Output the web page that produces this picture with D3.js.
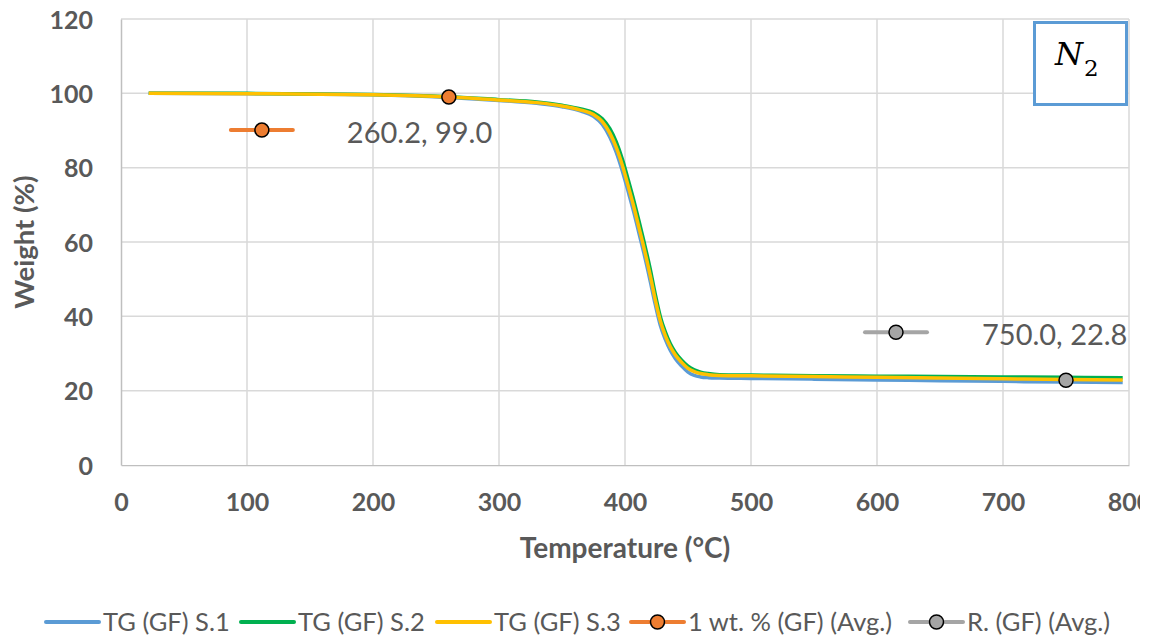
<!DOCTYPE html>
<html>
<head>
<meta charset="utf-8">
<script src="https://cdn.jsdelivr.net/npm/d3@7"></script>
<style>
  body { margin: 0; background: #fff; }
  text { font-family: Lato, "Open Sans", sans-serif; fill: #595959; }
</style>
</head>
<body>
<svg id="chart" width="1153" height="639"></svg>
<script>
// TG curves (temperature in °C, weight in %)
const temperature = [22, 100, 200, 260, 300, 330, 350, 365, 375, 382, 388, 393, 398, 403, 407, 411, 415, 420, 424, 428, 432, 436, 440, 445, 450, 455, 460, 466, 475, 500, 550, 600, 650, 700, 750, 795];
const tgS1 = [100, 99.9, 99.6, 98.9, 98.1, 97.3, 96.4, 95.2, 93.8, 91.6, 88.2, 84.2, 79.0, 73.0, 68.0, 62.5, 57.0, 49.5, 43.2, 37.6, 33.8, 30.8, 28.6, 26.6, 25.0, 24.1, 23.7, 23.5, 23.4, 23.3, 23.1, 22.9, 22.7, 22.5, 22.3, 22.2];
const tgS2 = [100, 100, 99.7, 99.1, 98.3, 97.7, 96.8, 95.8, 94.8, 93.2, 90.5, 87.0, 82.2, 76.2, 71.2, 65.8, 60.2, 52.8, 46.0, 40.0, 35.8, 32.6, 30.3, 28.2, 26.6, 25.6, 25.0, 24.6, 24.3, 24.2, 24.0, 23.9, 23.8, 23.7, 23.6, 23.5];
const tgS3 = [100, 99.9, 99.6, 99.0, 98.2, 97.5, 96.6, 95.5, 94.3, 92.4, 89.3, 85.5, 80.5, 74.5, 69.5, 64.0, 58.5, 51.0, 44.5, 38.8, 34.8, 31.8, 29.6, 27.6, 26.0, 25.1, 24.6, 24.3, 24.1, 24.0, 23.8, 23.6, 23.4, 23.2, 23.0, 22.9];

// averaged marker points
const onsetTemp = [260.2];
const onsetWeight = [99.0];
const residueTemp = [750.0];
const residueWeight = [22.8];

const xTicks = [0, 100, 200, 300, 400, 500, 600, 700, 800];
const yTicks = [0, 20, 40, 60, 80, 100, 120];
const seriesNames = ["TG (GF) S.1", "TG (GF) S.2", "TG (GF) S.3", "1 wt. % (GF) (Avg.)", "R. (GF) (Avg.)"];

const colors = ["#5b9bd5", "#00b050", "#ffc000", "#ed7d31", "#a5a5a5"];

const svg = d3.select("#chart");
svg.append("rect").attr("width", 1153).attr("height", 639).attr("fill", "#fff");

const x = d3.scaleLinear().domain([0, 800]).range([121, 1129]);
const y = d3.scaleLinear().domain([0, 120]).range([465, 19]);

// gridlines
const grid = svg.append("g");
grid.selectAll(".gx").data(xTicks.slice(1)).join("line")
  .attr("x1", d => x(d)).attr("x2", d => x(d))
  .attr("y1", y(0)).attr("y2", y(120))
  .attr("stroke", "#d9d9d9").attr("stroke-width", 1.5);
grid.selectAll(".gy").data(yTicks.slice(1)).join("line")
  .attr("x1", x(0)).attr("x2", x(800))
  .attr("y1", d => y(d)).attr("y2", d => y(d))
  .attr("stroke", "#d9d9d9").attr("stroke-width", 1.5);

// axes
const xAxis = svg.append("g").attr("transform", `translate(0,${y(0)})`)
  .call(d3.axisBottom(x).tickValues(xTicks).tickSize(0).tickPadding(28));
const yAxis = svg.append("g").attr("transform", `translate(${x(0)},0)`)
  .call(d3.axisLeft(y).tickValues(yTicks).tickSize(0).tickPadding(28));
[xAxis, yAxis].forEach(a => {
  a.select(".domain").attr("stroke", "#bfbfbf").attr("stroke-width", 1.5);
  a.selectAll("text").attr("font-family", "Lato").attr("font-weight", "bold")
    .attr("font-size", 25).attr("fill", "#595959");
});
yAxis.selectAll("text").attr("dy", "0.36em");

// "800" is cut at the picture edge in the original
svg.append("clipPath").attr("id", "edge").append("rect")
  .attr("x", 0).attr("y", 0).attr("width", 1140).attr("height", 639);
xAxis.attr("clip-path", "url(#edge)");

// axis titles
svg.append("text").attr("x", 625).attr("y", 558).attr("text-anchor", "middle")
  .attr("font-size", 28).attr("font-weight", "bold").text("Temperature (°C)");
svg.append("text").attr("transform", "translate(34,242) rotate(-90)")
  .attr("text-anchor", "middle").attr("font-size", 27.5).attr("font-weight", "bold")
  .text("Weight (%)");

// TG curves
const line = d3.line().x(d => x(d[0])).y(d => y(d[1])).curve(d3.curveMonotoneX);
[tgS1, tgS2, tgS3].forEach((s, i) => {
  svg.append("path")
    .datum(temperature.map((t, j) => [t, s[j]]))
    .attr("fill", "none").attr("stroke", colors[i]).attr("stroke-width", 3.5)
    .attr("stroke-linejoin", "round").attr("d", line);
});

// markers with data labels (legend key + text)
const fmt = d3.format(".1f");
const markerSets = [
  { tx: onsetTemp, wy: onsetWeight, color: colors[3], key: [-187, 33], txt: [-102, 46] },
  { tx: residueTemp, wy: residueWeight, color: colors[4], key: [-170, -48], txt: [-84, -35] }
];
markerSets.forEach(m => {
  const pts = m.tx.map((t, i) => [t, m.wy[i]]);
  const g = svg.append("g");
  pts.forEach(p => {
    const px = x(p[0]), py = y(p[1]);
    // label key
    g.append("line").attr("x1", px + m.key[0] - 31).attr("x2", px + m.key[0] + 31)
      .attr("y1", py + m.key[1]).attr("y2", py + m.key[1])
      .attr("stroke", m.color).attr("stroke-width", 4).attr("stroke-linecap", "round");
    g.append("circle").attr("cx", px + m.key[0]).attr("cy", py + m.key[1]).attr("r", 7)
      .attr("fill", m.color).attr("stroke", "#000").attr("stroke-width", 1.5);
    g.append("text").attr("x", px + m.txt[0]).attr("y", py + m.txt[1])
      .attr("font-size", 29).text(`${fmt(p[0])}, ${fmt(p[1])}`);
  });
  g.selectAll("circle.pt").data(pts).join("circle").attr("class", "pt")
    .attr("cx", d => x(d[0])).attr("cy", d => y(d[1])).attr("r", 7)
    .attr("fill", m.color).attr("stroke", "#000").attr("stroke-width", 1.5);
});

// N2 box
svg.append("rect").attr("x", 1034.5).attr("y", 22.5).attr("width", 92).attr("height", 82)
  .attr("fill", "#fff").attr("stroke", "#5b9bd5").attr("stroke-width", 3);
const n2 = svg.append("text").attr("x", 1055).attr("y", 65)
  .style("font-family", "'DejaVu Serif', 'Liberation Serif', serif").style("fill", "#000");
n2.append("tspan").attr("font-size", 32).attr("font-style", "italic").text("N");
n2.append("tspan").attr("font-size", 23).attr("dy", 11).attr("dx", 1).text("2");

// legend
const legendX = [46, 241, 437, 631, 910];
const legend = svg.append("g").attr("transform", "translate(0,622)");
seriesNames.forEach((name, i) => {
  const g = legend.append("g").attr("transform", `translate(${legendX[i]},0)`);
  g.append("line").attr("x1", 0).attr("x2", 53).attr("stroke", colors[i])
    .attr("stroke-width", 4).attr("stroke-linecap", "round");
  if (i >= 3) {
    g.append("circle").attr("cx", 26.5).attr("r", 7).attr("fill", colors[i])
      .attr("stroke", "#000").attr("stroke-width", 1.5);
  }
  g.append("text").attr("x", 57).attr("y", 9).attr("font-size", 25.5).text(name);
});
</script>
</body>
</html>
